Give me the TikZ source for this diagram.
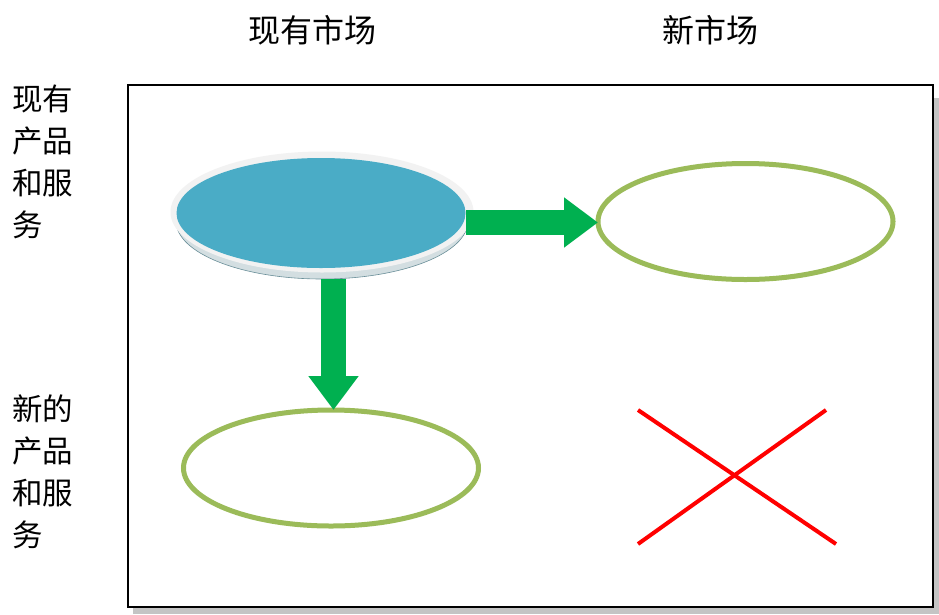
\documentclass[tikz,border=0pt]{standalone}
\usepackage{fontspec}
\newfontfamily\cjk{Noto Sans CJK SC}
\usetikzlibrary{shapes.geometric,arrows.meta}
\definecolor{ringgray}{HTML}{F2F2F2}
\definecolor{rimcol}{HTML}{D3DEE1}
\definecolor{rimedge}{HTML}{6A8F99}
\definecolor{blueoval}{HTML}{4AACC6}
\definecolor{arrowgreen}{HTML}{00B050}
\definecolor{olive}{HTML}{9BBB59}
\definecolor{shadowgray}{HTML}{C4C4C4}
\tikzset{
  lbl/.style={font=\cjk\fontsize{30.5}{42}\selectfont, inner sep=0pt, align=left},
  head/.style={font=\cjk\fontsize{32}{32}\selectfont, inner sep=0pt},
  outline/.style={ellipse, draw=olive, line width=5pt, inner sep=0pt, outer sep=0pt, minimum width=295pt, minimum height=116pt},
  bigarrow/.style={draw=arrowgreen, line width=25pt, -{Triangle[width=48pt,length=34pt]}, arrowgreen},
  cross/.style={draw=red, line width=4pt}
}
\begin{document}
\begin{tikzpicture}[x=1pt,y=-1pt]
\useasboundingbox (0,0) rectangle (939,614);
% frame with shadow
\fill[shadowgray] (133,98) rectangle (939,614);
\node[draw=black, line width=2pt, fill=white, inner sep=0pt, outer sep=0pt, minimum width=805pt, minimum height=522pt, anchor=north west] (frame) at (128,85) {};
% headings
\node[head] (h1) at (312,30) {现有市场};
\node[head] (h2) at (710,30) {新市场};
\node[lbl, anchor=north west] (l1) at (12,85) {现有\\产品\\和服\\务};
\node[lbl, anchor=north west] (l2) at (12,395) {新的\\产品\\和服\\务};
% blue disc
\node[ellipse, fill=rimcol, draw=rimedge, line width=0.6pt, inner sep=0pt, minimum width=292pt, minimum height=116pt] (rim) at (322,221) {};
\node[ellipse, fill=ringgray, inner sep=0pt, minimum width=303pt, minimum height=121pt] (ring) at (322,212) {};
\node[ellipse, fill=blueoval, inner sep=0pt, minimum width=289pt, minimum height=110pt] (disc) at (321,213) {};
% outlines
\node[outline] (newmkt) at (745.5,221.5) {};
\node[outline] (newprod) at (331,468) {};
% arrows
\coordinate (hy) at (0,222.5);
\coordinate (vx) at (333.5,0);
\draw[bigarrow] (disc.east |- hy) -- (newmkt.west |- hy);
\draw[bigarrow] (vx |- rim.south) -- (vx |- newprod.north);
% cross
\coordinate (c1) at (638,410);
\coordinate (c2) at (836,544);
\coordinate (c3) at (638,544);
\coordinate (c4) at (826,410);
\draw[cross] (c1) -- (c2);
\draw[cross] (c3) -- (c4);
\end{tikzpicture}
\end{document}
